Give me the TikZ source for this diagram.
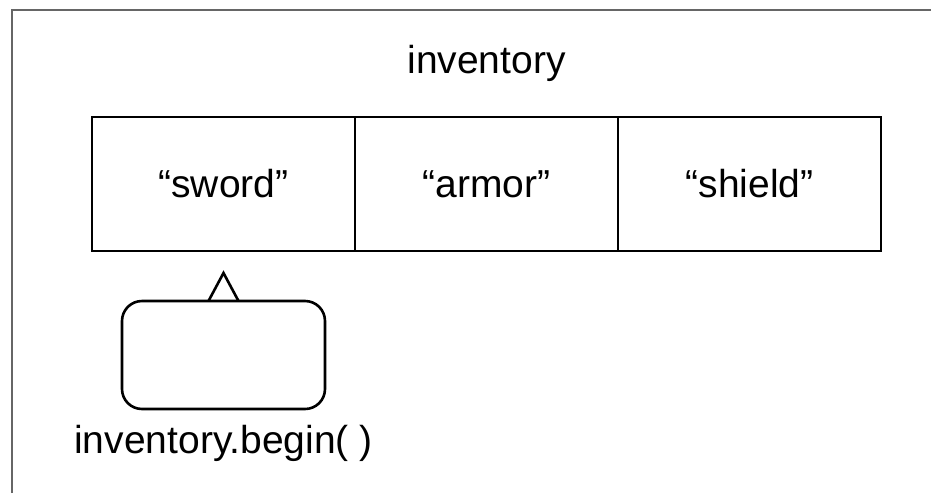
\documentclass[tikz,border=0pt]{standalone}
\usepackage{fontspec}
\setmainfont{Liberation Sans}
\usetikzlibrary{positioning}

\begin{document}
\begin{tikzpicture}[x=1pt, y=-1pt, every node/.style={font=\fontsize{39}{46}\selectfont},
		cell/.style={draw, line width=2.6pt, minimum width=263pt, minimum height=134pt, inner sep=0pt, outer sep=0pt},
		iterbox/.style={draw, line width=2.6pt, rounded corners=20pt, minimum width=203pt, minimum height=108pt, outer sep=0pt}]
			% Frame
			\useasboundingbox (0,0) rectangle (931,493);
			\draw[black!60, line width=2pt] (12,493) -- (12,10) -- (931,10);

			% Container cells
			\node[cell] (sword) at (223.5,184) {“sword”};
			\node[cell, right=0pt of sword] (armor) {“armor”};
			\node[cell, right=0pt of armor] (shield) {“shield”};
			\node[anchor=base] (title) at ([yshift=44pt]armor.north) {inventory};

			% Iterator
			\node[iterbox] (iter) at (223.5,355) {};
			\coordinate (tip) at ([yshift=28pt]iter.north);
			\draw[line width=2.6pt, line join=miter] ([xshift=-15pt]iter.north) -- (tip) -- ([xshift=15pt]iter.north);
			\node[anchor=base] (beginlbl) at ([yshift=-44pt]iter.south) {inventory.begin( )};
		\end{tikzpicture}
\end{document}
